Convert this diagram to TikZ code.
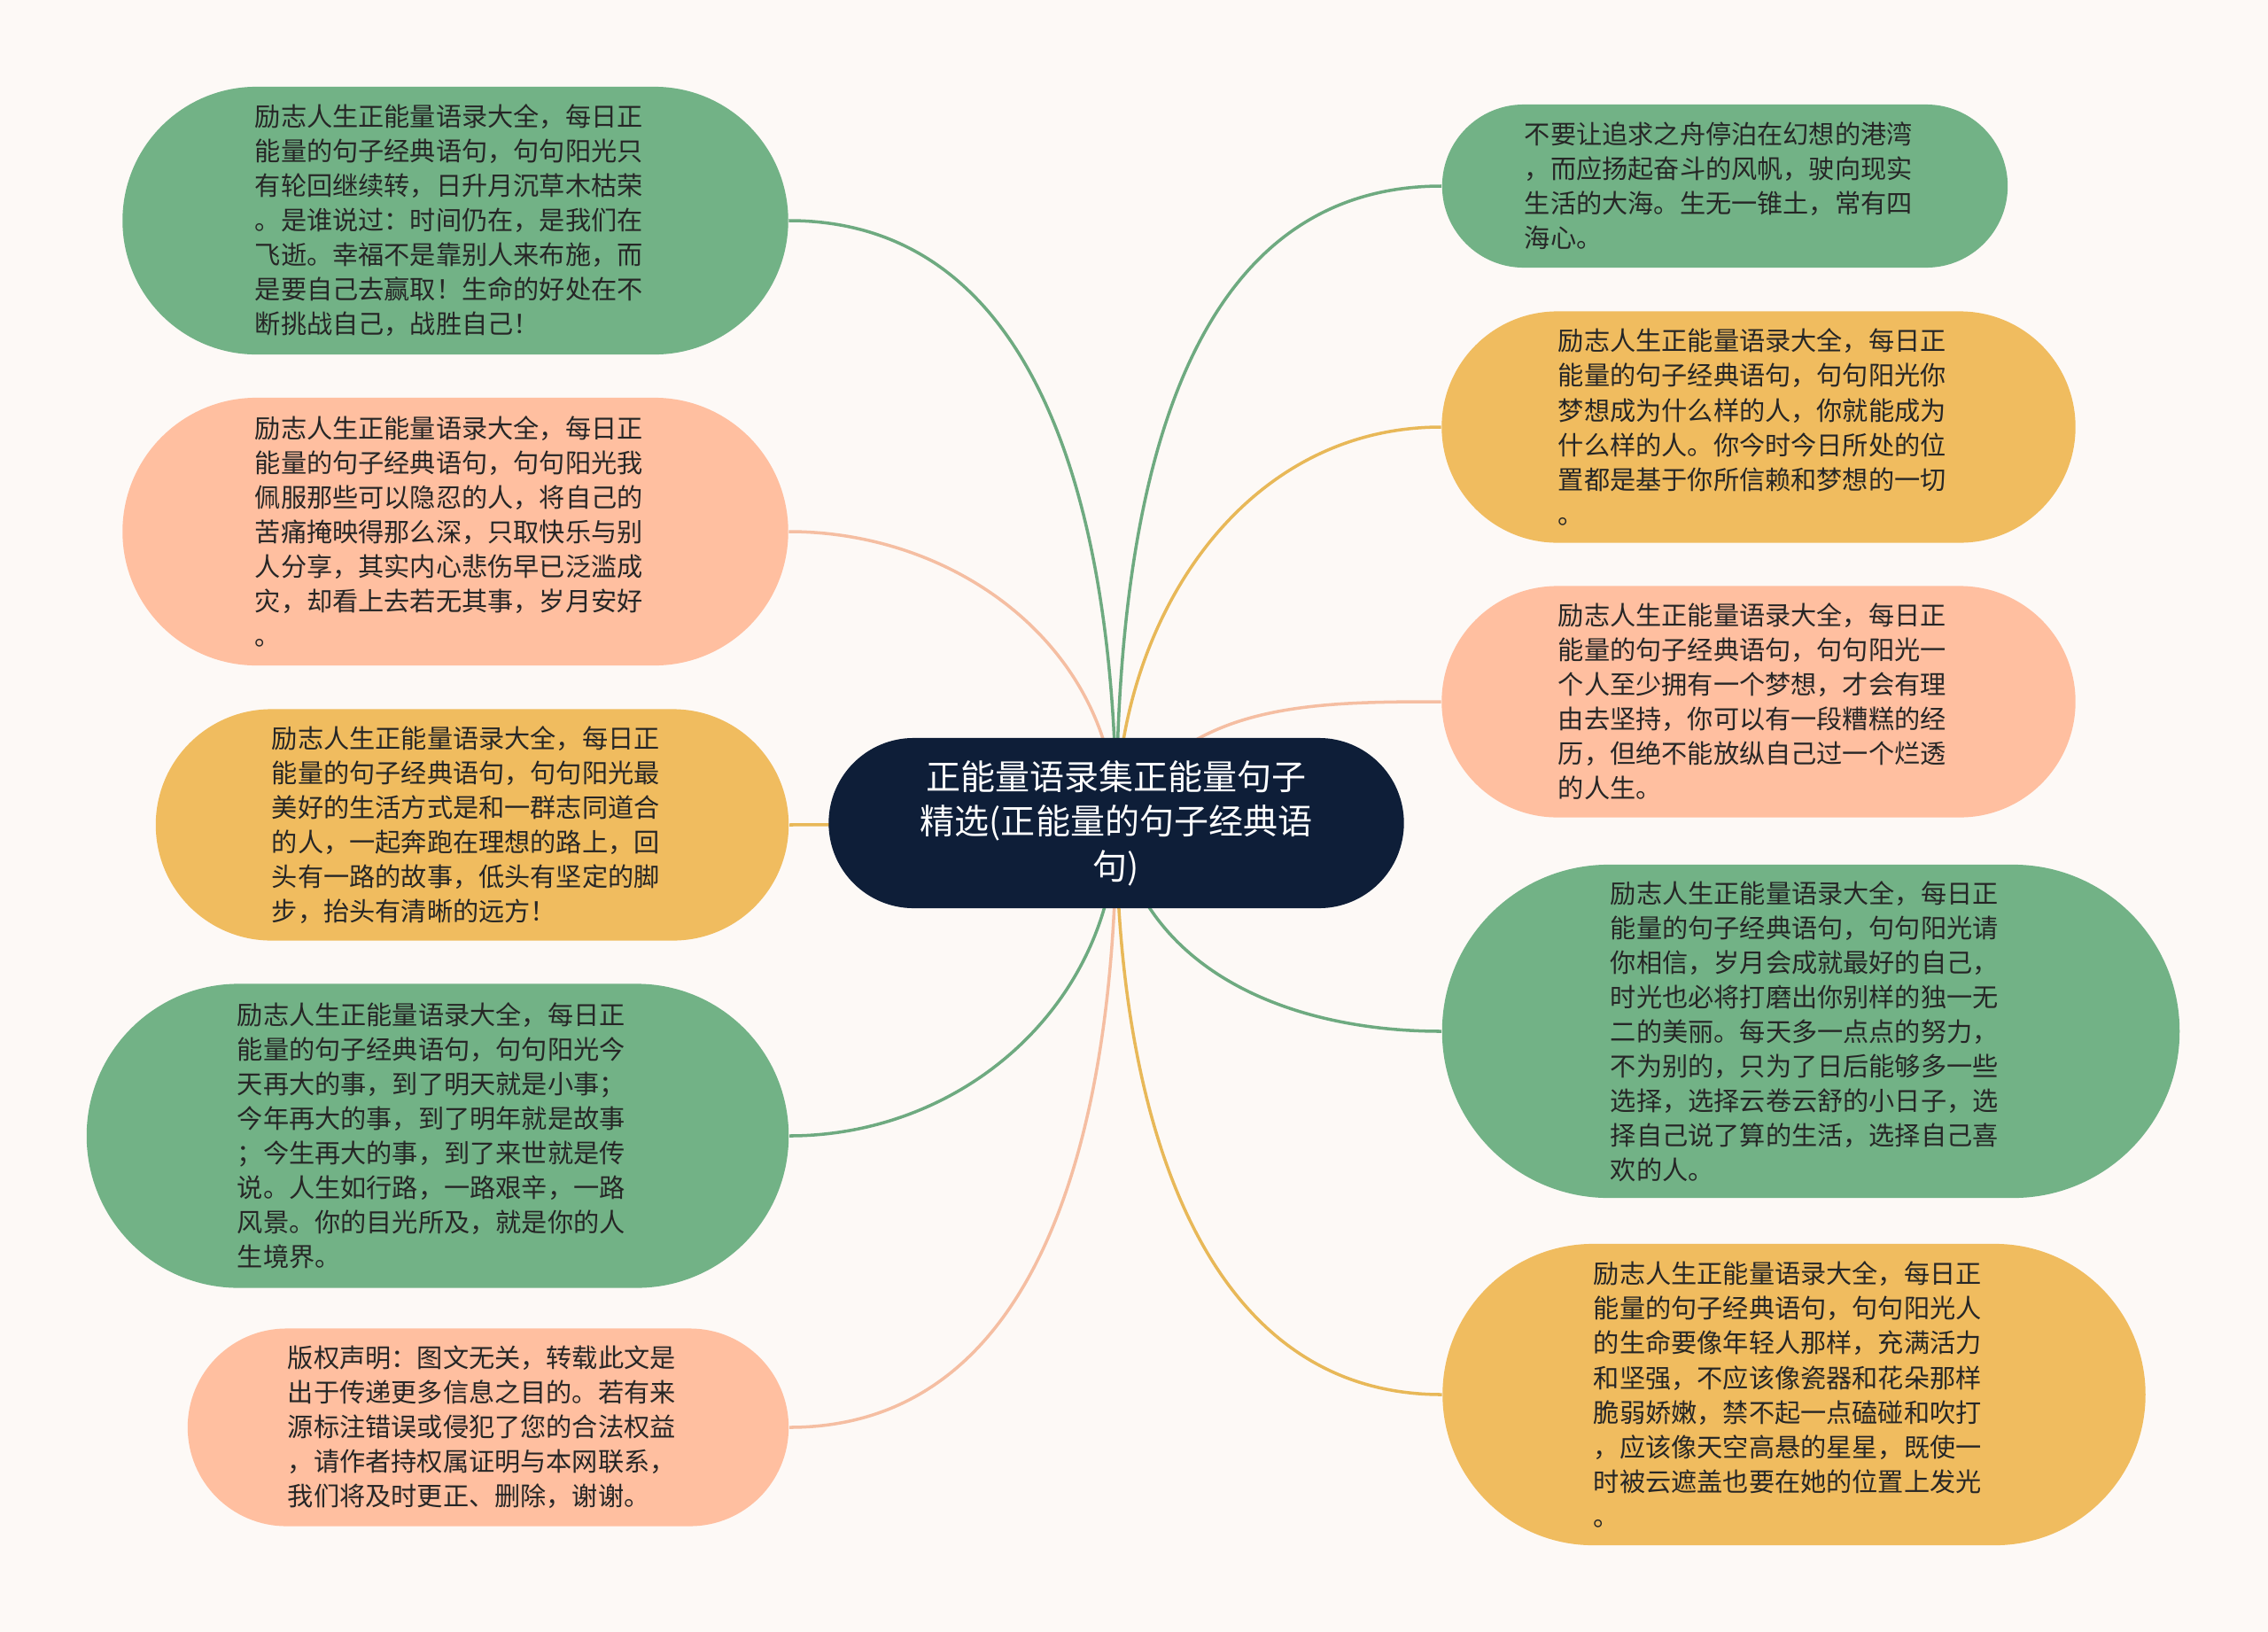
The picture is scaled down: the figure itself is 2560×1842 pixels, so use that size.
\documentclass[tikz,border=0pt]{standalone}
\usepackage{fontspec}
\setmainfont{Noto Sans CJK SC}
\usetikzlibrary{shapes.misc,backgrounds}
\definecolor{bgcream}{RGB}{253,249,246}
\definecolor{leafgreen}{RGB}{114,178,134}
\definecolor{leafsalmon}{RGB}{255,191,160}
\definecolor{leaforange}{RGB}{240,188,95}
\definecolor{rootnavy}{RGB}{14,30,56}
\definecolor{txtdark}{RGB}{38,38,38}
\definecolor{linkgreen}{RGB}{110,170,128}
\definecolor{linkorange}{RGB}{232,184,88}
\definecolor{linksalmon}{RGB}{245,190,162}

\begin{document}
\begin{tikzpicture}[x=0.01cm, y=-0.01cm,
    leaf/.style={rounded rectangle, inner sep=0pt, align=left, text width=4.52cm, text=txtdark,
      font=\fontsize{8.3pt}{11.1pt}\selectfont},
    root/.style={rounded rectangle, inner sep=0pt, fill=rootnavy, text=white, align=center,
      font=\fontsize{11.1pt}{14.4pt}\selectfont},
    link/.style={line width=1pt}]
    \useasboundingbox (0,0) rectangle (2560,1842);

    % central topic
    \node[root, minimum width=6.49cm, minimum height=1.92cm] (c) at (1260,929)
        {正能量语录集正能量句子\\精选(正能量的句子经典语\\句)};

    % left branches
    \node[leaf, fill=leafgreen, minimum width=7.51cm, minimum height=3.02cm] (l1) at (514,249)
        {励志人生正能量语录大全，每日正\\能量的句子经典语句，句句阳光只\\有轮回继续转，日升月沉草木枯荣\\。是谁说过：时间仍在，是我们在\\飞逝。幸福不是靠别人来布施，而\\是要自己去赢取！生命的好处在不\\断挑战自己，战胜自己！};
    \node[leaf, fill=leafsalmon, minimum width=7.51cm, minimum height=3.02cm] (l2) at (514,600)
        {励志人生正能量语录大全，每日正\\能量的句子经典语句，句句阳光我\\佩服那些可以隐忍的人，将自己的\\苦痛掩映得那么深，只取快乐与别\\人分享，其实内心悲伤早已泛滥成\\灾，却看上去若无其事，岁月安好\\。};
    \node[leaf, fill=leaforange, minimum width=7.14cm, minimum height=2.61cm] (l3) at (533,931)
        {励志人生正能量语录大全，每日正\\能量的句子经典语句，句句阳光最\\美好的生活方式是和一群志同道合\\的人，一起奔跑在理想的路上，回\\头有一路的故事，低头有坚定的脚\\步，抬头有清晰的远方！};
    \node[leaf, fill=leafgreen, minimum width=7.92cm, minimum height=3.43cm] (l4) at (494,1282)
        {励志人生正能量语录大全，每日正\\能量的句子经典语句，句句阳光今\\天再大的事，到了明天就是小事；\\今年再大的事，到了明年就是故事\\；今生再大的事，到了来世就是传\\说。人生如行路，一路艰辛，一路\\风景。你的目光所及，就是你的人\\生境界。};
    \node[leaf, fill=leafsalmon, minimum width=6.78cm, minimum height=2.23cm] (l5) at (551,1611)
        {版权声明：图文无关，转载此文是\\出于传递更多信息之目的。若有来\\源标注错误或侵犯了您的合法权益\\，请作者持权属证明与本网联系，\\我们将及时更正、删除，谢谢。};

    % right branches
    \node[leaf, fill=leafgreen, minimum width=6.38cm, minimum height=1.84cm] (r1) at (1947,210)
        {不要让追求之舟停泊在幻想的港湾\\，而应扬起奋斗的风帆，驶向现实\\生活的大海。生无一锥土，常有四\\海心。};
    \node[leaf, fill=leaforange, minimum width=7.15cm, minimum height=2.61cm] (r2) at (1985,482)
        {励志人生正能量语录大全，每日正\\能量的句子经典语句，句句阳光你\\梦想成为什么样的人，你就能成为\\什么样的人。你今时今日所处的位\\置都是基于你所信赖和梦想的一切\\。};
    \node[leaf, fill=leafsalmon, minimum width=7.15cm, minimum height=2.61cm] (r3) at (1985,792)
        {励志人生正能量语录大全，每日正\\能量的句子经典语句，句句阳光一\\个人至少拥有一个梦想，才会有理\\由去坚持，你可以有一段糟糕的经\\历，但绝不能放纵自己过一个烂透\\的人生。};
    \node[leaf, fill=leafgreen, minimum width=8.32cm, minimum height=3.76cm] (r4) at (2044,1164)
        {励志人生正能量语录大全，每日正\\能量的句子经典语句，句句阳光请\\你相信，岁月会成就最好的自己，\\时光也必将打磨出你别样的独一无\\二的美丽。每天多一点点的努力，\\不为别的，只为了日后能够多一些\\选择，选择云卷云舒的小日子，选\\择自己说了算的生活，选择自己喜\\欢的人。};
    \node[leaf, fill=leaforange, minimum width=7.93cm, minimum height=3.40cm] (r5) at (2025,1574)
        {励志人生正能量语录大全，每日正\\能量的句子经典语句，句句阳光人\\的生命要像年轻人那样，充满活力\\和坚强，不应该像瓷器和花朵那样\\脆弱娇嫩，禁不起一点磕碰和吹打\\，应该像天空高悬的星星，既使一\\时被云遮盖也要在她的位置上发光\\。};

    % connectors behind the bubbles
    \begin{scope}[on background layer]
        \fill[bgcream] (0,0) rectangle (2560,1842);
        \draw[link, linkgreen] (c.center) to[out=90, in=0] (l1.east);
        \draw[link, linksalmon] (c.center) to[out=90, in=0] (l2.east);
        \draw[link, linkorange] (c.center) -- (l3.east);
        \draw[link, linkgreen] (c.center) to[out=-90, in=0] (l4.east);
        \draw[link, linksalmon] (c.center) to[out=-90, in=0] (l5.east);
        \draw[link, linkgreen] (c.center) to[out=90, in=180] (r1.west);
        \draw[link, linkorange] (c.center) to[out=90, in=180] (r2.west);
        \draw[link, linksalmon] (c.center) to[out=62, in=180] (r3.west);
        \draw[link, linkgreen] (c.center) to[out=-80, in=180] (r4.west);
        \draw[link, linkorange] (c.center) to[out=-90, in=180] (r5.west);
    \end{scope}
\end{tikzpicture}
\end{document}
